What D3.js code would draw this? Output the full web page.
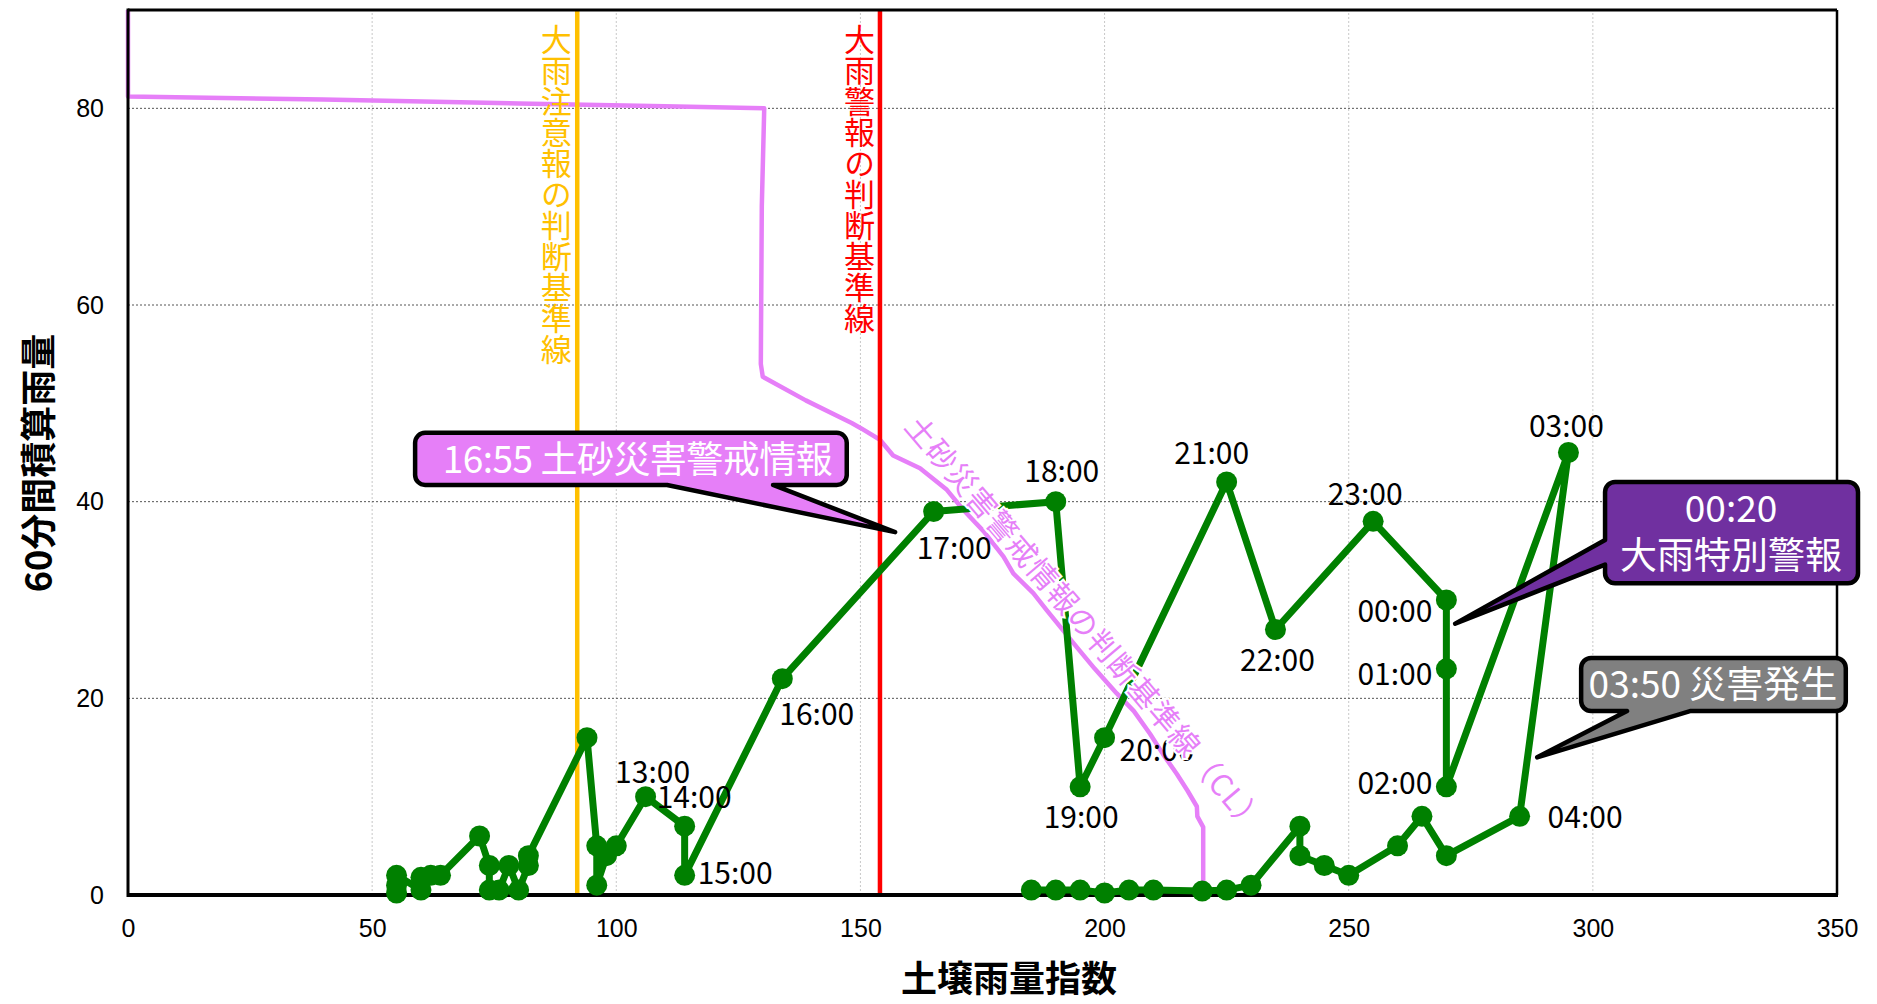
<!DOCTYPE html>
<html><head><meta charset="utf-8">
<script src="https://cdn.jsdelivr.net/npm/d3@7"></script>
<style>
html,body{margin:0;padding:0;background:#fff;}
svg{display:block;}
text{font-family:"Noto Sans CJK JP","Noto Sans",sans-serif;}
</style></head><body>
<svg id="chart" width="1877" height="1004"></svg>
<script>
// ---- data ----
const soilIndex = [55,55,55,60,60,62,64,72,74,74,76,78,80,82,82,94,96,96,98,100,106,114,114,134,165,190,195,200,225,235,255,270,270,270,295,285,270,265,260,250,245,240,240,230,225,220,210,205,200,195,190,185];
const rain60    = [0.2,1,2,0.5,1.8,2,2,6,3,0.5,0.5,3,0.5,3,4,16,5,1,4,5,10,7,2,22,39,40,11,16,42,27,38,30,23,11,45,8,4,8,5,2,3,4,7,1,0.5,0.4,0.5,0.5,0.2,0.5,0.5,0.5];
const timeLabels = ["","","","","","","","","","","","","","","","","","","","","13:00","14:00","15:00","16:00","17:00","18:00","19:00","20:00","21:00","22:00","23:00","00:00","01:00","02:00","03:00","04:00","","","","","","","","","","","","","","","",""];

// 土砂災害警戒情報の判断基準線 (CL)
const clSoil = [0,0,40,80,110,130.3,129.8,129.6,130,138.8,148.2,150,154,156.7,162.2,167.7,171,175.2,179.3,181.3,185.4,188.1,194.3,198,202.5,206,209.3,212,214.8,217,218.9,219,220.2,220.2];
const clRain = [90,81.2,80.9,80.5,80.2,80.0,70,54.0,52.7,50.3,48.0,47.5,46.3,44.7,43.4,41.2,39.2,37.0,34.4,32.7,30.7,29.0,25.2,23.0,20.5,18.7,16.4,14.3,12.3,10.6,9.0,8.0,6.9,0];

const xTicks = [0,50,100,150,200,250,300,350];
const yTicks = [0,20,40,60,80];
const xGrid = [50,100,150,200,250,300];
const yGrid = [20,40,60,80];

const advisoryLine = 92;   // 大雨注意報の判断基準線
const warningLine = 154;   // 大雨警報の判断基準線

const xTitle = "土壌雨量指数";
const yTitle = "60分間積算雨量";

// ---- layout / styles ----
const W = 1877, H = 1004;
const margin = {left:128, right:40, top:10, bottom:109};
const x = d3.scaleLinear().domain([0,350]).range([margin.left, W - margin.right]);
const y = d3.scaleLinear().domain([0,90]).range([H - margin.bottom, margin.top]);

const GREEN = "#008000", PINK = "#e67ff8", GOLD = "#ffc000", RED = "#ff0000";

// label placement: [anchor, dx, dy]
const labelPlace = {
  "13:00":["middle",7,-14], "14:00":["start",-28,-18], "15:00":["start",13,9],
  "16:00":["start",-3,46], "17:00":["start",-17,47], "18:00":["middle",6,-20],
  "19:00":["middle",1,41], "20:00":["start",15,23], "21:00":["middle",-15,-18],
  "22:00":["middle",2,41], "23:00":["middle",-8,-16], "00:00":["end",-14,22],
  "01:00":["end",-14,16], "02:00":["end",-14,7], "03:00":["middle",-2,-16],
  "04:00":["start",28,12]
};

const svg = d3.select("#chart");

// grid
svg.append("g").selectAll("line").data(xGrid).join("line")
  .attr("x1", d => x(d)).attr("x2", d => x(d))
  .attr("y1", y(0)).attr("y2", y(90))
  .attr("stroke", "#c8c8c8").attr("stroke-width", 1).attr("stroke-dasharray", "2,2");
svg.append("g").selectAll("line").data(yGrid).join("line")
  .attr("x1", x(0)).attr("x2", x(350))
  .attr("y1", d => y(d)).attr("y2", d => y(d))
  .attr("stroke", "#555").attr("stroke-width", 1).attr("stroke-dasharray", "2,2");

// axes
const xAxis = svg.append("g").attr("transform", `translate(0,${y(0)})`)
  .call(d3.axisBottom(x).tickValues(xTicks).tickSize(0).tickPadding(24).tickFormat(d3.format("d")));
const yAxis = svg.append("g").attr("transform", `translate(${x(0)},0)`)
  .call(d3.axisLeft(y).tickValues(yTicks).tickSize(0).tickPadding(24).tickFormat(d3.format("d")));
[xAxis, yAxis].forEach(a => {
  a.select(".domain").remove();
  a.selectAll("text").attr("font-size", 25).attr("fill", "#000")
    .style("font-family", '"Liberation Sans","Noto Sans",sans-serif');
});

// CL line
svg.append("path")
  .datum(clSoil.map((s,i) => [s, clRain[i]]))
  .attr("d", d3.line().x(d => x(d[0])).y(d => y(d[1])))
  .attr("fill", "none").attr("stroke", PINK).attr("stroke-width", 4.5)
  .attr("stroke-linejoin", "round");

// vertical reference lines
[[advisoryLine, GOLD], [warningLine, RED]].forEach(([v, c]) => {
  svg.append("line").attr("x1", x(v)).attr("x2", x(v)).attr("y1", y(0)).attr("y2", y(90))
    .attr("stroke", c).attr("stroke-width", 4.5);
});

// frame
svg.append("line").attr("x1", x(0)).attr("x2", x(350)).attr("y1", y(90)).attr("y2", y(90)).attr("stroke", "#000").attr("stroke-width", 3);
svg.append("line").attr("x1", x(350)).attr("x2", x(350)).attr("y1", y(90)).attr("y2", y(0)).attr("stroke", "#000").attr("stroke-width", 2.5);
svg.append("line").attr("x1", x(0)).attr("x2", x(0)).attr("y1", y(90)-1.5).attr("y2", y(0)+2).attr("stroke", "#000").attr("stroke-width", 3);
svg.append("line").attr("x1", x(0)).attr("x2", x(350)+1).attr("y1", y(0)).attr("y2", y(0)).attr("stroke", "#000").attr("stroke-width", 4);

// vertical texts
function vText(v, top, txt, color) {
  svg.append("text").attr("x", x(v)).attr("y", y(top))
    .style("writing-mode", "vertical-rl").attr("font-size", 31).attr("fill", color)
    .text(txt);
}
vText(87.7, 88.6, "大雨注意報の判断基準線", GOLD);
vText(149.8, 88.6, "大雨警報の判断基準線", RED);

// green series
const pts = soilIndex.map((s,i) => ({s, r: rain60[i], t: timeLabels[i]}));
svg.append("path").datum(pts)
  .attr("d", d3.line().x(d => x(d.s)).y(d => y(d.r)))
  .attr("fill", "none").attr("stroke", GREEN).attr("stroke-width", 7).attr("stroke-linejoin", "round");
svg.append("g").selectAll("circle").data(pts).join("circle")
  .attr("cx", d => x(d.s)).attr("cy", d => y(d.r)).attr("r", 10.5).attr("fill", GREEN);

// time labels
svg.append("g").selectAll("text").data(pts.filter(d => d.t)).join("text")
  .attr("x", d => x(d.s) + labelPlace[d.t][1])
  .attr("y", d => y(d.r) + labelPlace[d.t][2])
  .attr("text-anchor", d => labelPlace[d.t][0])
  .attr("font-size", 30).attr("fill", "#000")
  .text(d => d.t);

// CL text along the line
const clTextAt = [160.8, 48.4];
svg.append("text")
  .attr("transform", `translate(${x(clTextAt[0])},${y(clTextAt[1])}) rotate(49.6)`)
  .attr("dominant-baseline", "central")
  .attr("font-size", 30).attr("letter-spacing", 1.2).attr("fill", PINK)
  .attr("stroke", "#fff").attr("stroke-width", 4).attr("paint-order", "stroke")
  .text("土砂災害警戒情報の判断基準線（CL）");

// callouts
function calloutPath(b, w) {
  const x0 = x(b.x0), x1 = x(b.x1), y0 = y(b.y0), y1 = y(b.y1), r = 10;
  const tx = x(w.tip[0]), ty = y(w.tip[1]);
  let p = `M${x0+r},${y0} H${x1-r} A${r},${r} 0 0 1 ${x1},${y0+r} V${y1-r} A${r},${r} 0 0 1 ${x1-r},${y1}`;
  if (w.side === "bottom") {
    p += ` H${x(w.b1)} L${tx},${ty} L${x(w.b0)},${y1}`;
  }
  p += ` H${x0+r} A${r},${r} 0 0 1 ${x0},${y1-r}`;
  if (w.side === "left") {
    p += ` V${y(w.b1)} L${tx},${ty} L${x0},${y(w.b0)}`;
  }
  p += ` V${y0+r} A${r},${r} 0 0 1 ${x0+r},${y0} Z`;
  return p;
}
const callouts = [
  {box:{x0:58.8,x1:147.2,y0:47.0,y1:41.7}, wedge:{side:"bottom", b0:110.4, b1:132.1, tip:[157.1,36.9]},
   fill:PINK, lines:[["16:55 土砂災害警戒情報", 104.4, 42.9, 390]], size:37},
  {box:{x0:302.5,x1:354.3,y0:42.0,y1:31.7}, wedge:{side:"left", b0:36.1, b1:33.6, tip:[271.8,27.6]},
   fill:"#7030a0", lines:[["00:20", 328.3, 37.9, 0],["大雨特別警報", 328.3, 33.2, 0]], size:37},
  {box:{x0:297.6,x1:351.8,y0:24.1,y1:18.7}, wedge:{side:"bottom", b0:307.0, b1:319.9, tip:[288.6,14.0]},
   fill:"#808080", lines:[["03:50 災害発生", 324.6, 20.0, 0]], size:37}
];
callouts.forEach(c => {
  svg.append("path").attr("d", calloutPath(c.box, c.wedge))
    .attr("fill", c.fill).attr("stroke", "#000").attr("stroke-width", 4.5).attr("stroke-linejoin", "round");
  c.lines.forEach(([t, cx, by, len]) => {
    const tEl = svg.append("text").attr("x", x(cx)).attr("y", y(by)).attr("text-anchor", "middle")
      .attr("font-size", c.size).attr("fill", "#fff").text(t);
    if (len) tEl.attr("textLength", len).attr("lengthAdjust", "spacing");
  });
});

// axis titles
svg.append("text").attr("x", 1009).attr("y", 992).attr("text-anchor", "middle")
  .attr("font-size", 36).attr("font-weight", "bold").attr("fill", "#000").text(xTitle);
svg.append("text").attr("transform", `translate(36,463) rotate(-90)`).attr("text-anchor", "middle")
  .attr("dominant-baseline", "central")
  .attr("font-size", 36).attr("font-weight", "bold").attr("fill", "#000").text(yTitle);
</script>
</body></html>
